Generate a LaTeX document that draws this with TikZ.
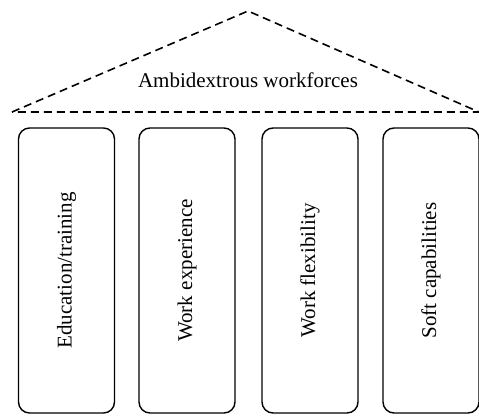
\documentclass[tikz,border=0pt]{standalone}
\usepackage{fontspec}
\setmainfont{Liberation Serif}
\begin{document}
\begin{tikzpicture}[x=1pt,y=-1pt,
  pillar/.style={draw, line width=1.4pt, rounded corners=11pt, rotate=90,
    minimum width=285pt, minimum height=96pt, inner sep=0pt,
    font=\fontsize{21}{25}\selectfont},
  roof/.style={draw, line width=1.6pt, dash pattern=on 8pt off 5pt},
  rooflabel/.style={font=\fontsize{21}{25}\selectfont, inner sep=0pt}]
\useasboundingbox (0,0) rectangle (479,415);
\coordinate (L) at (12,112);
\coordinate (R) at (479,112);
\coordinate (A) at (248,11);
\draw[roof] (L) -- (A) -- (R) -- cycle;
\node[rooflabel, anchor=base] (title) at (248,87) {Ambidextrous workforces};
\node[pillar] (p1) at (66.5,270.5) {Education/training};
\node[pillar] (p2) at (187,270.5) {Work experience};
\node[pillar] (p3) at (310,270.5) {Work flexibility};
\node[pillar] (p4) at (431,270.5) {Soft capabilities};
\end{tikzpicture}
\end{document}
